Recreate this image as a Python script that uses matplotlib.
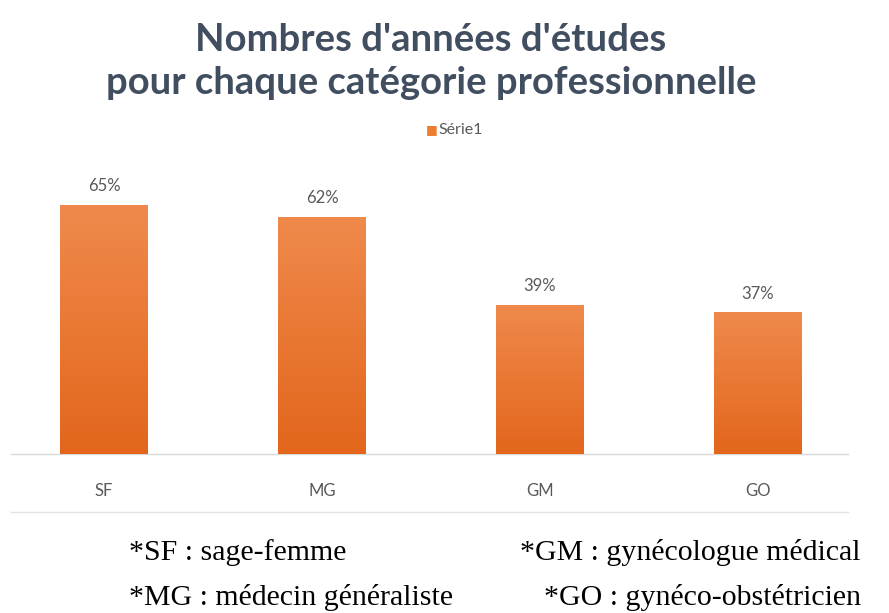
import numpy as np
import matplotlib.pyplot as plt
from matplotlib.colors import LinearSegmentedColormap
from matplotlib.lines import Line2D

categories = ['SF', 'MG', 'GM', 'GO']
values = [65, 62, 39, 37]
value_labels = ['65%', '62%', '39%', '37%']
series_name = 'Série1'
title_lines = ["Nombres d'années d'études", "pour chaque catégorie professionnelle"]
notes_left = ['*SF : sage-femme', '*MG : médecin généraliste']
notes_right = ['*GM : gynécologue médical', '*GO : gynéco-obstétricien']

fig = plt.figure(figsize=(8.89, 6.13), dpi=100)
ax = fig.add_axes([11 / 889, 1 - 454 / 613, 837 / 889, 268 / 613])

x = np.arange(len(categories))
bars = ax.bar(x, values, width=0.40, color='#EB7A32', zorder=2)

# vertical gradient on each bar, lighter at the top
grad = LinearSegmentedColormap.from_list('g', ['#E3661C', '#EF8A4C'])
ramp = np.linspace(0, 1, 256).reshape(-1, 1)
for b in bars:
    x0, w, h = b.get_x(), b.get_width(), b.get_height()
    im = ax.imshow(ramp, cmap=grad, origin='lower', aspect='auto',
                   extent=[x0, x0 + w, 0, h], zorder=3)
    im.set_clip_path(b)

for xi, v, lab in zip(x, values, value_labels):
    ax.text(xi, v + 2.8, lab, ha='center', va='bottom', fontsize=12,
            color='#595959', family='Lato')

ax.set_xlim(-0.427, 3.413)
ax.set_ylim(0, 70)
ax.set_xticks(x)
ax.set_xticklabels(categories, fontsize=12, color='#595959', family='Lato')
ax.tick_params(axis='x', length=0, pad=21)
ax.set_yticks([])
for s in ['left', 'right', 'top']:
    ax.spines[s].set_visible(False)
ax.spines['bottom'].set_color('#D9D9D9')
ax.spines['bottom'].set_linewidth(1)

# separator line below the category labels
fig.add_artist(Line2D([11 / 889, 848 / 889], [1 - 512 / 613, 1 - 512 / 613],
                      color='#E3E3E3', lw=1))

# title, two lines
for i, line in enumerate(title_lines):
    fig.text(431 / 889, 1 - (51 + 43 * i) / 613, line, ha='center',
             va='baseline', fontsize=27.5, fontweight='bold',
             color='#414E60', family='Lato')

# legend
fig.text(426 / 889, 1 - 130 / 613, '■', ha='left', va='center', fontsize=9,
         color='#ED7D31', family='DejaVu Sans')
fig.text(438 / 889, 1 - 130 / 613, series_name, ha='left', va='center',
         fontsize=11.5, color='#595959', family='Lato')

# footnotes
for i, t in enumerate(notes_left):
    fig.text(129 / 889, 1 - (560 + 45 * i) / 613, t, ha='left', va='baseline',
             fontsize=21.5, family='Liberation Serif', color='black')
for i, t in enumerate(notes_right):
    fig.text((520 + 24 * i) / 889, 1 - (560 + 45 * i) / 613, t, ha='left',
             va='baseline', fontsize=21.5, family='Liberation Serif',
             color='black')

fig.savefig('out.png', dpi=100)
